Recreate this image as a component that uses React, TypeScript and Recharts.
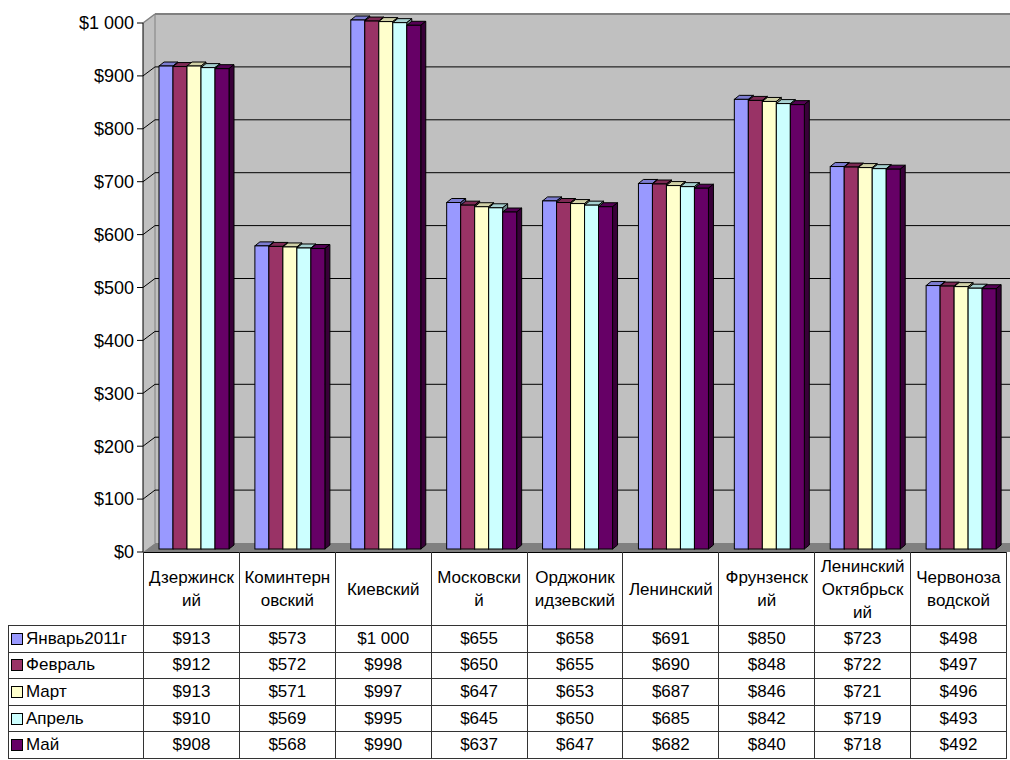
import { BarChart, Bar, YAxis, XAxis, CartesianGrid } from "recharts";

const districts = [
  "Дзержинский",
  "Коминтерновский",
  "Киевский",
  "Московский",
  "Орджоникидзевский",
  "Ленинский",
  "Фрунзенский",
  "Ленинский Октябрьский",
  "Червонозаводской",
];

// how the names wrap in the data table header
const districtLabels = [
  "Дзержинск\nий",
  "Коминтерн\nовский",
  "Киевский",
  "Московски\nй",
  "Орджоник\nидзевский",
  "Ленинский",
  "Фрунзенск\nий",
  "Ленинский\nОктябрьск\nий",
  "Червоноза\nводской",
];

const months = ["Январь2011г", "Февраль", "Март", "Апрель", "Май"];
const colors = ["#9999FF", "#993366", "#FFFFCC", "#CCFFFF", "#660066"];

const jan = [913, 573, 1000, 655, 658, 691, 850, 723, 498];
const feb = [912, 572, 998, 650, 655, 690, 848, 722, 497];
const mar = [913, 571, 997, 647, 653, 687, 846, 721, 496];
const apr = [910, 569, 995, 645, 650, 685, 842, 719, 493];
const may = [908, 568, 990, 637, 647, 682, 840, 718, 492];

const series = [jan, feb, mar, apr, may];
const yTicks = [0, 100, 200, 300, 400, 500, 600, 700, 800, 900, 1000];

const data = districts.map((name, i) => ({
  name,
  m0: jan[i],
  m1: feb[i],
  m2: mar[i],
  m3: apr[i],
  m4: may[i],
}));

const money = (v: number) =>
  "$" + String(v).replace(/\B(?=(\d{3})+(?!\d))/g, " ");

// layout
const W = 1010;
const CH = 580;
const LEFT = 143;
const RIGHT = 1006;
const TOP = 23;
const BOTTOM = 552;
const DX = 12; // wall depth
const DY = 9;
const FONT = "'Liberation Sans', Arial, sans-serif";

const shade = (hex: string, k: number) => {
  const n = parseInt(hex.slice(1), 16);
  const r = Math.round(((n >> 16) & 255) * k);
  const g = Math.round(((n >> 8) & 255) * k);
  const b = Math.round((n & 255) * k);
  return `rgb(${r},${g},${b})`;
};

function Bar3D(props: any) {
  const { x, y, width, height, fill } = props;
  if (width == null || height == null) return null;
  const fx = x + 4;
  const fy = y - 3;
  const d = 5;
  const e = 4;
  return (
    <g stroke="#000" strokeWidth={1}>
      <polygon
        points={`${fx},${fy} ${fx + d},${fy - e} ${fx + width + d},${fy - e} ${fx + width},${fy}`}
        fill={shade(fill, 0.82)}
      />
      <polygon
        points={`${fx + width},${fy} ${fx + width + d},${fy - e} ${fx + width + d},${fy + height - e} ${fx + width},${fy + height}`}
        fill={shade(fill, 0.55)}
      />
      <rect x={fx} y={fy} width={width} height={height} fill={fill} />
    </g>
  );
}

function GridLine(props: any) {
  const { y1, index } = props;
  if (index === 0) return <g key={props.key} />;
  const top = index === yTicks.length - 1;
  const c = top ? "#808080" : "#000";
  return (
    <g key={props.key}>
      <line x1={LEFT} y1={y1} x2={LEFT + DX} y2={y1 - DY} stroke={c} strokeWidth={top ? 1.5 : 1} />
      <line x1={LEFT + DX} y1={y1 - DY} x2={W} y2={y1 - DY} stroke={c} strokeWidth={top ? 2 : 1} />
    </g>
  );
}

const cell: any = {
  border: "1px solid #333",
  textAlign: "center",
  padding: 0,
  fontSize: 17,
};

export default function App() {
  const colW = (RIGHT - LEFT) / districts.length;
  return (
    <div
      style={{
        position: "absolute",
        left: 0,
        top: 0,
        width: W,
        height: 760,
        background: "#fff",
        overflow: "hidden",
        fontFamily: FONT,
      }}
    >
      <svg width={W} height={CH} style={{ position: "absolute", left: 0, top: 0 }}>
        <polygon
          points={`${LEFT},${TOP} ${LEFT + DX},${TOP - DY} ${LEFT + DX},${BOTTOM - DY} ${LEFT},${BOTTOM}`}
          fill="#c0c0c0"
        />
        <rect x={LEFT + DX} y={TOP - DY} width={W - LEFT - DX} height={BOTTOM - TOP} fill="#c0c0c0" />
        <polygon
          points={`${LEFT},${BOTTOM} ${LEFT + DX},${BOTTOM - DY} ${W},${BOTTOM - DY} ${W},${BOTTOM}`}
          fill="#808080"
        />
        <line x1={LEFT + DX} y1={TOP - DY} x2={LEFT + DX} y2={BOTTOM - DY} stroke="#808080" strokeWidth={1} />
      </svg>
      <div style={{ position: "absolute", left: 0, top: 0 }}>
        <BarChart
          width={W}
          height={CH}
          data={data}
          margin={{ top: TOP, right: W - RIGHT, bottom: CH - BOTTOM, left: 0 }}
          barCategoryGap={12}
          barGap={0}
        >
          <CartesianGrid vertical={false} horizontal={GridLine as any} />
          <XAxis dataKey="name" hide />
          <YAxis
            width={LEFT}
            domain={[0, 1000]}
            ticks={yTicks}
            interval={0}
            tickFormatter={money}
            tickSize={6}
            tickMargin={3}
            axisLine={{ stroke: "#000" }}
            tickLine={{ stroke: "#000" }}
            tick={{ fill: "#000", fontSize: 18, fontFamily: FONT }}
          />
          {months.map((m, i) => (
            <Bar
              key={m}
              dataKey={`m${i}`}
              name={m}
              fill={colors[i]}
              shape={Bar3D}
              isAnimationActive={false}
            />
          ))}
        </BarChart>
      </div>
      <table
        style={{
          position: "absolute",
          left: 8,
          top: BOTTOM,
          borderCollapse: "collapse",
          tableLayout: "fixed",
          width: RIGHT - 8 + 1,
          fontFamily: FONT,
          color: "#000",
        }}
      >
        <colgroup>
          <col style={{ width: LEFT - 8 }} />
          {districts.map((d) => (
            <col key={d} style={{ width: colW }} />
          ))}
        </colgroup>
        <tbody>
          <tr style={{ height: 73 }}>
            <td style={{ ...cell, borderLeft: "none", borderTop: "none", borderBottom: "1px solid #333" }} />
            {districtLabels.map((l) => (
              <td key={l} style={{ ...cell, whiteSpace: "pre-line", lineHeight: "23px", borderTop: "1px solid #000" }}>
                {l}
              </td>
            ))}
          </tr>
          {months.map((m, i) => (
            <tr key={m} style={{ height: 26.6 }}>
              <td style={{ ...cell, textAlign: "left", whiteSpace: "nowrap" }}>
                <span
                  style={{
                    display: "inline-block",
                    width: 10,
                    height: 10,
                    background: colors[i],
                    border: "1px solid #000",
                    marginLeft: 2,
                    marginRight: 3,
                    verticalAlign: "-1px",
                  }}
                />
                {m}
              </td>
              {series[i].map((v, j) => (
                <td key={j} style={cell}>
                  {money(v)}
                </td>
              ))}
            </tr>
          ))}
        </tbody>
      </table>
    </div>
  );
}
